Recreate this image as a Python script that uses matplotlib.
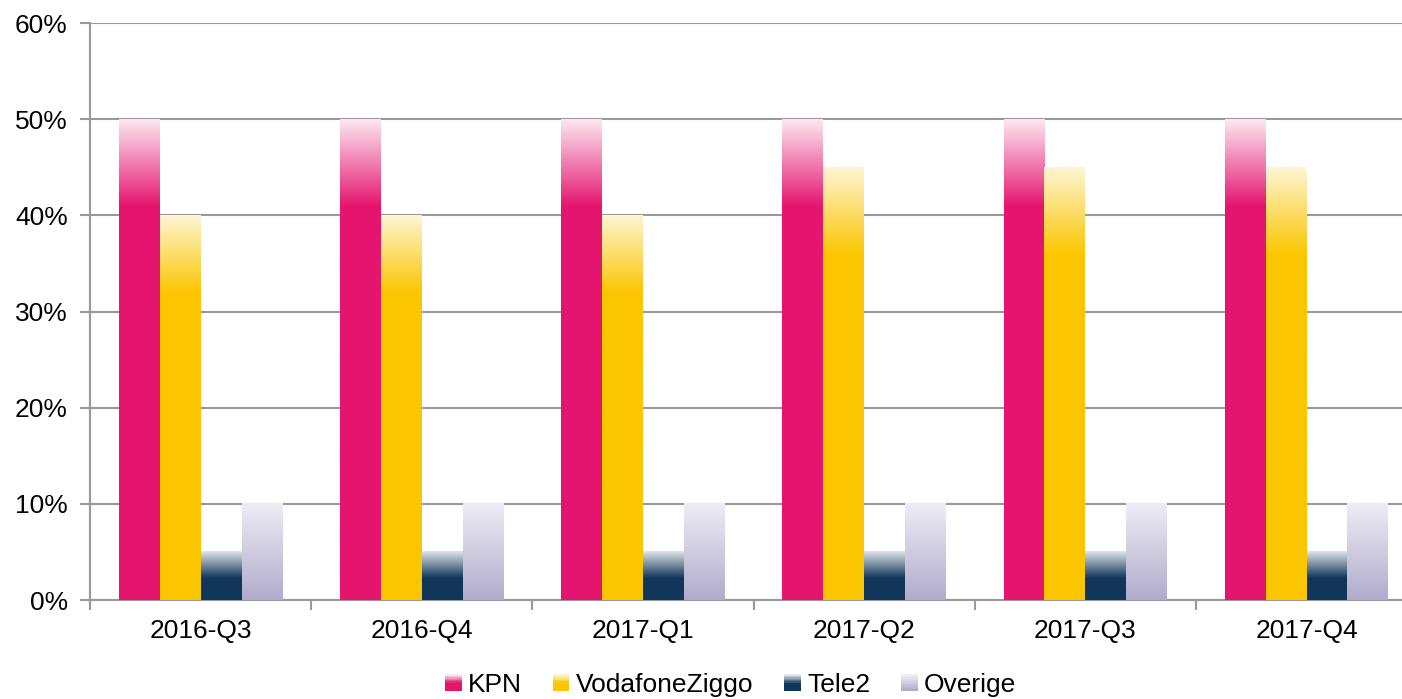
import numpy as np
import matplotlib
matplotlib.use("Agg")
import matplotlib.pyplot as plt
from matplotlib.colors import to_rgba
from matplotlib.patches import Rectangle
from matplotlib.legend_handler import HandlerBase

plt.rcParams['font.family'] = ['Liberation Sans', 'DejaVu Sans']

quarters = ["2016-Q3", "2016-Q4", "2017-Q1", "2017-Q2", "2017-Q3", "2017-Q4"]
series = ["KPN", "VodafoneZiggo", "Tele2", "Overige"]
kpn = [50, 50, 50, 50, 50, 50]
vodafoneziggo = [40, 40, 40, 45, 45, 45]
tele2 = [5, 5, 5, 5, 5, 5]
overige = [10, 10, 10, 10, 10, 10]
values = [kpn, vodafoneziggo, tele2, overige]

# solid colour, pale top colour, fraction of bar height that fades
solid = ["#e5156f", "#fbc600", "#10375a", "#b1abcc"]
top = ["#fce6f0", "#fdf5d2", "#dfe5e8", "#eeedf5"]
fade = [0.18, 0.20, 0.55, 1.0]

def gradient(c_solid, c_top, f, n=200):
    t = np.linspace(0, 1, n)
    s = np.array(to_rgba(c_solid))
    p = np.array(to_rgba(c_top))
    k = np.clip((t - (1 - f)) / f, 0, 1)[:, None]
    return (s * (1 - k) + p * k)[:, None, :]

class GradHandler(HandlerBase):
    def __init__(self, idx):
        super().__init__()
        self.idx = idx
    def create_artists(self, legend, orig, xd, yd, w, h, fontsize, trans):
        n = 12
        arts = []
        g = gradient(solid[self.idx], top[self.idx], max(fade[self.idx], 0.5), n)
        for i in range(n):
            r = Rectangle((-xd, -yd + h * i / n), w, h / n + 0.3,
                          facecolor=g[i, 0], edgecolor="none", transform=trans)
            arts.append(r)
        return arts

fig = plt.figure(figsize=(14.02, 6.99), dpi=100)
ax = fig.add_axes([0.0642, 0.1416, 0.9466, 0.8254])

x = np.arange(len(quarters))
w = 0.185
handles = []
for i, vals in enumerate(values):
    bars = ax.bar(x + (i - 1.5) * w, vals, w, color=solid[i], label=series[i], zorder=2)
    handles.append(bars)
    img = gradient(solid[i], top[i], fade[i])
    for b in bars:
        ax.imshow(img, extent=(b.get_x(), b.get_x() + b.get_width(), 0, b.get_height()),
                  origin="lower", aspect="auto", interpolation="bilinear", zorder=3)

ax.set_xlim(-0.5, len(quarters) - 0.5)
ax.set_ylim(0, 60)
ax.set_yticks(np.arange(0, 61, 10))
ax.set_yticklabels([f"{v}%" for v in range(0, 61, 10)])
ax.yaxis.grid(True, color="#999999", linewidth=1.5)
ax.set_axisbelow(True)

ax.set_xticks(x)
ax.set_xticklabels(quarters)
ax.set_xticks(np.arange(-0.5, len(quarters)), minor=True)
ax.tick_params(axis="x", which="major", length=0, labelsize=19, pad=14)
ax.tick_params(axis="x", which="minor", length=7, width=1.5, color="#999999")
ax.tick_params(axis="y", length=7, width=1.5, color="#999999", labelsize=19, pad=9)

for s in ["top", "right"]:
    ax.spines[s].set_visible(False)
for s in ["left", "bottom"]:
    ax.spines[s].set_color("#999999")
    ax.spines[s].set_linewidth(1.5)

fig.legend(handles, series, loc="center", bbox_to_anchor=(0.521, 0.02), ncol=4,
           frameon=False, fontsize=19, handlelength=0.64, handleheight=0.57,
           handletextpad=0.23, columnspacing=1.17, borderpad=0,
           handler_map={h: GradHandler(i) for i, h in enumerate(handles)})

fig.savefig("out.png", dpi=100)
